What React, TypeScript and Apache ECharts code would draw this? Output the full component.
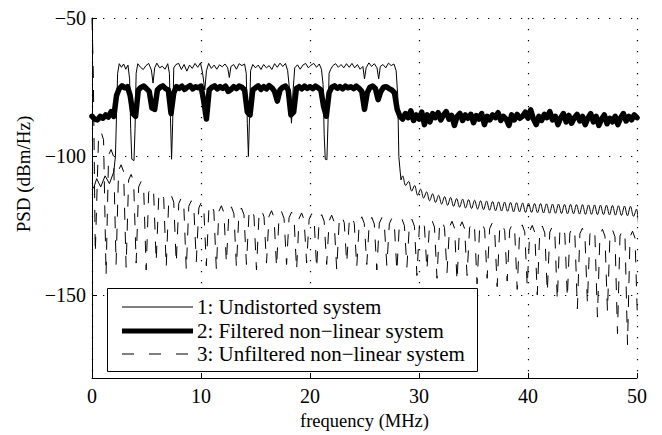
import React, { useEffect, useRef } from "react";
import * as echarts from "echarts";

const FONT = '"Liberation Serif", "Times New Roman", serif';

const xTicks = [0, 10, 20, 30, 40, 50];
const yTicks = [-150, -100, -50];

const legendLabels = [
  "1: Undistorted system",
  "2: Filtered non\u2212linear system",
  "3: Unfiltered non\u2212linear system",
];

// Series 1: undistorted system (low band, occupied band with notches)
const undistortedFreq = [
  0, 0.2, 0.43, 0.8, 1.2, 1.6, 2.0, 2.15, 2.25, 2.35, 2.5, 2.7, 2.9, 3.1, 3.3, 3.45,
  3.55, 3.65, 3.85, 3.95, 4.05, 4.2, 4.45, 4.7, 4.95, 5.2, 5.45, 5.6, 5.75, 5.95, 6.2, 6.45,
  6.7, 6.95, 7.1, 7.2, 7.3, 7.4, 7.5, 7.7, 7.95, 8.2, 8.45, 8.7, 8.95, 9.2, 9.45, 9.7,
  9.95, 10.15, 10.35, 10.5, 10.7, 10.95, 11.2, 11.45, 11.7, 11.95, 12.2, 12.45, 12.6, 12.75, 13.0, 13.25,
  13.5, 13.75, 14.0, 14.15, 14.25, 14.35, 14.45, 14.55, 14.75, 15.0, 15.25, 15.5, 15.75, 16.0, 16.25, 16.5,
  16.75, 17.0, 17.25, 17.5, 17.75, 17.95, 18.15, 18.3, 18.45, 18.6, 18.85, 19.1, 19.35, 19.6, 19.85, 20.1,
  20.35, 20.6, 20.85, 21.05, 21.2, 21.3, 21.4, 21.55, 21.65, 21.75, 21.9, 22.1, 22.35, 22.6, 22.85, 23.1,
  23.35, 23.6, 23.85, 24.1, 24.35, 24.6, 24.85, 25.0, 25.15, 25.4, 25.65, 25.9, 26.15, 26.3, 26.45, 26.7,
  26.95, 27.2, 27.45, 27.7, 27.9, 28.05, 28.15, 28.25, 28.35,
];
const undistortedPsd = [
  -112, -110.8, -108, -111, -107, -109.8, -105.5, -100, -85, -70, -66.5, -67.8, -66.6, -68.5, -67, -72,
  -90, -101, -101.5, -90, -70, -66.5, -67.8, -68.6, -67.2, -66.4, -68.8, -73.5, -68, -66.3, -68, -67.4,
  -68.5, -66.5, -70, -86, -101, -88, -68, -66.8, -66.4, -68.6, -66.8, -69.2, -67, -68.2, -66.4, -67.8,
  -66.2, -70, -76, -69, -66.4, -68.2, -67, -68.5, -66.9, -67.6, -66.6, -68, -71.5, -67.5, -66.8, -68.5,
  -66.5, -67.2, -66.6, -70, -88, -100, -86, -69, -66.8, -68, -67, -68.6, -66.8, -68, -67.2, -68.6,
  -66.5, -67.8, -66.3, -67.5, -66.4, -69, -77, -88, -76, -68, -66.9, -68.5, -67, -66.4, -68, -67,
  -66.4, -67.8, -66.6, -68.5, -74, -92, -101, -101.2, -88, -70, -68.5, -67.2, -66.5, -67.8, -66.8, -68,
  -66.5, -67.8, -66.4, -68, -66.8, -68.5, -67.5, -72, -68, -66.2, -67.5, -66.5, -68, -72, -67.5, -66.8,
  -68, -66.3, -67.2, -66.6, -69, -78, -100, -104.5, -108.5,
];
// Series 1 rippled tail above the band, sampled every 0.275 MHz from 28.5 MHz
const undistortedTailStart = 28.5;
const undistortedTailStep = 0.275;
const undistortedTailPsd = [
  -107, -110.5, -109, -112.5, -110.5, -114, -111.8, -115, -112.8, -116,
  -113.5, -116.6, -114, -117.2, -114.5, -117.6, -114.8, -118, -115.2, -118.3,
  -115.4, -118.6, -115.6, -118.8, -115.8, -119, -116, -119.2, -116.1, -119.4,
  -116.3, -119.6, -116.4, -119.7, -116.5, -119.8, -116.6, -120, -116.7, -120,
  -116.8, -120.2, -116.9, -120.2, -117, -120.3, -117, -120.4, -117.1, -120.5,
  -117.2, -120.5, -117.2, -120.6, -117.3, -120.7, -117.3, -120.7, -117.4, -120.8,
  -117.4, -120.9, -117.5, -120.9, -117.5, -121, -117.6, -121, -117.6, -121.1,
  -117.7, -121.2, -117.8, -121.3, -117.9, -121.4, -118, -121.6, -119, -131,
];

// Series 2: filtered non-linear system, sampled every 0.25 MHz from 0
const filteredStart = 0;
const filteredStep = 0.25;
const filteredPsd = [
  -85.5, -86.5, -86.8, -85.5, -86.2, -85, -85.8, -83.8,
  -85.5, -78, -75.5, -74.5, -75.2, -74.8, -78, -84.5,
  -85.5, -76, -75, -74.6, -75.5, -76.5, -82.5, -83,
  -76, -75, -74.5, -75.5, -76, -84.5, -77, -74.8,
  -75.4, -74.6, -75.8, -75, -74.4, -75.6, -74.8, -75.2,
  -74.6, -80, -86.5, -76, -75, -74.5, -75.6, -74.8,
  -75.4, -74.6, -76.5, -75.8, -74.8, -75.5, -74.6, -75,
  -76, -84, -85, -76, -75.2, -74.5, -75.8, -74.8,
  -75.6, -74.4, -75.2, -76.5, -80, -76, -75, -74.6,
  -76, -85, -84, -75.5, -74.8, -75.6, -74.6, -75.4,
  -74.8, -75.5, -74.6, -75.2, -76, -82, -85.5, -77,
  -75, -74.5, -75.4, -74.8, -75.6, -74.6, -75.2, -74.8,
  -75.5, -74.6, -75.4, -76.5, -83, -77, -75, -74.6,
  -75.5, -79.5, -76.5, -75, -74.8, -75.5, -76, -77,
  -83, -85.5, -86.5, -84.5, -86, -83.5, -87, -85,
  -86.5, -84, -88.5, -85, -87.5, -84.5, -86, -84.2,
  -86.8, -85, -83.8, -86.5, -85.2, -88.8, -85.5, -84.5,
  -87, -85, -86.2, -84.8, -87.8, -85.2, -86.5, -84.5,
  -88.5, -85.5, -86.8, -85, -86, -84.2, -87, -85.5,
  -86.5, -88.8, -85, -86.8, -84.8, -86.2, -85.5, -84,
  -86.2, -83.2, -86.5, -88.5, -85.5, -87, -84.8, -86,
  -83.8, -86.8, -85.5, -88.5, -86, -84.5, -87.5, -85.2,
  -88, -86, -84.8, -87.2, -85.5, -88.5, -86.2, -84.5,
  -87.5, -85.5, -88.8, -86.5, -85, -88.2, -86.2, -87.5,
  -85.5, -88.5, -86, -84.5, -87.2, -85.5, -86.8, -85,
  -86,
];

// Series 3: unfiltered non-linear system. DC spike, then one lobe per row
// (rising shoulder, lobe top, falling shoulder, null), sampled every 0.23 MHz from 0.6 MHz
const unfilteredHeadFreq = [0, 0.12, 0.3];
const unfilteredHeadPsd = [-50, -70, -135];
const unfilteredStart = 0.6;
const unfilteredStep = 0.23;
const unfilteredPsd = [
  -93, -91, -94, -143,
  -99.5, -97.5, -100, -139,
  -105, -103, -105.5, -140,
  -108.5, -106.5, -109, -138.5,
  -111, -109, -111.5, -141,
  -113, -111, -113.5, -138,
  -114.8, -112.8, -115.2, -140,
  -116, -114, -116.5, -138.5,
  -117, -115, -117.5, -141,
  -118, -116, -118.5, -138,
  -118.6, -116.6, -119, -139.5,
  -119.2, -117.2, -119.7, -141,
  -119.8, -117.8, -120.3, -138.5,
  -120.2, -118.2, -120.7, -140,
  -120.6, -118.6, -121, -139,
  -121, -119, -121.5, -141,
  -121.3, -119.3, -121.8, -138.5,
  -121.6, -119.6, -122, -140,
  -121.9, -119.9, -122.4, -139,
  -122.1, -120.1, -122.6, -141,
  -122.4, -120.4, -122.9, -138.5,
  -122.7, -120.7, -123.2, -140.5,
  -123, -121, -123.4, -139,
  -123.2, -121.2, -123.7, -141,
  -123.4, -121.4, -123.9, -138.5,
  -123.6, -121.6, -124.1, -140,
  -123.8, -121.8, -124.2, -139,
  -124, -122, -124.4, -141,
  -124.1, -122.1, -124.6, -139.5,
  -124.3, -122.3, -124.8, -141.5,
  -124.5, -122.5, -125, -140,
  -124.7, -122.7, -125.2, -143,
  -124.9, -122.9, -125.4, -141,
  -125, -123, -125.5, -144,
  -125.2, -123.2, -125.7, -142,
  -125.4, -123.4, -125.9, -145,
  -125.6, -123.6, -126, -143,
  -125.8, -123.8, -126.2, -146,
  -126, -124, -126.4, -144,
  -126.1, -124.1, -126.6, -147,
  -126.3, -124.3, -126.8, -145,
  -126.5, -124.5, -127, -148,
  -126.7, -124.7, -127.2, -147,
  -126.9, -124.9, -127.4, -150,
  -127.1, -125.1, -127.6, -149,
  -127.3, -125.3, -127.8, -152,
  -127.5, -125.5, -128, -151,
  -127.7, -125.7, -128.2, -155,
  -127.9, -125.9, -128.4, -153,
  -128.1, -126.1, -128.6, -158,
  -128.3, -126.3, -128.8, -156,
  -128.5, -126.5, -129, -164,
  -128.7, -126.7, -129.2, -168,
  -129, -127, -129.5, -160,
];

const pairs = (freq: number[], psd: number[]) => freq.map((f, i) => [f, psd[i]]);
const gridPairs = (start: number, step: number, psd: number[]) =>
  psd.map((v, i) => [Math.round((start + i * step) * 1000) / 1000, v]);

const minus = (v: number) => String(v).replace("-", "\u2212");

export default function App() {
  const ref = useRef<HTMLDivElement>(null);

  useEffect(() => {
    if (!ref.current) return;
    const chart = echarts.init(ref.current, undefined, { renderer: "svg" });

    const s1Band = pairs(undistortedFreq, undistortedPsd);
    const s1Tail = [
      s1Band[s1Band.length - 1],
      ...gridPairs(undistortedTailStart, undistortedTailStep, undistortedTailPsd),
    ];
    const s2 = gridPairs(filteredStart, filteredStep, filteredPsd);
    const s3 = [
      ...pairs(unfilteredHeadFreq, unfilteredHeadPsd),
      ...gridPairs(unfilteredStart, unfilteredStep, unfilteredPsd),
    ];

    const dotted = { color: "#000", width: 1.2, type: [1.3, 9.7] as number[] };
    const legendRowsY = [307, 331, 354];

    chart.setOption({
      animation: false,
      backgroundColor: "#fff",
      grid: { left: 92, top: 18, width: 545, height: 364, containLabel: false },
      xAxis: {
        type: "value",
        min: 0,
        max: 50,
        interval: 10,
        name: "frequency (MHz)",
        nameLocation: "middle",
        nameGap: 33,
        nameTextStyle: { fontFamily: FONT, fontSize: 18.5, color: "#000" },
        axisLine: { show: true, lineStyle: { color: "#000", width: 1 } },
        axisTick: { show: true, inside: true, length: 5, lineStyle: { color: "#000" } },
        axisLabel: {
          fontFamily: FONT,
          fontSize: 20,
          color: "#000",
          margin: 8,
          customValues: xTicks,
        },
        splitLine: { show: true, lineStyle: dotted },
      },
      yAxis: {
        type: "value",
        min: -180,
        max: -50,
        axisLine: { show: true, lineStyle: { color: "#000", width: 1 } },
        axisTick: { show: true, inside: true, length: 5, customValues: yTicks, lineStyle: { color: "#000" } },
        axisLabel: {
          fontFamily: FONT,
          fontSize: 20,
          color: "#000",
          margin: 6,
          customValues: yTicks,
          formatter: (v: number) => minus(v),
        },
        splitLine: { show: false },
      },
      series: [
        {
          type: "line",
          name: legendLabels[0],
          data: s1Band,
          symbol: "none",
          lineStyle: { color: "#000", width: 1 },
          z: 3,
          markLine: {
            silent: true,
            symbol: "none",
            label: { show: false },
            lineStyle: dotted,
            data: yTicks.map((v) => ({ yAxis: v })),
          },
        },
        {
          type: "line",
          name: legendLabels[0] + " (tail)",
          data: s1Tail,
          symbol: "none",
          smooth: 0.35,
          lineStyle: { color: "#000", width: 1 },
          z: 3,
        },
        {
          type: "line",
          name: legendLabels[1],
          data: s2,
          symbol: "none",
          lineStyle: { color: "#000", width: 5.5, join: "round", cap: "round" },
          z: 4,
        },
        {
          type: "line",
          name: legendLabels[2],
          data: s3,
          symbol: "none",
          lineStyle: { color: "#000", width: 1, type: [12, 12] },
          z: 5,
        },
      ],
      graphic: [
        {
          type: "text",
          x: 23,
          y: 174,
          rotation: Math.PI / 2,
          style: {
            text: "PSD (dBm/Hz)",
            fontFamily: FONT,
            fontSize: 19,
            fill: "#000",
            align: "center",
            verticalAlign: "middle",
          },
        },
        {
          type: "rect",
          z: 100,
          shape: { x: 107.5, y: 288.5, width: 370, height: 83 },
          style: { fill: "#fff", stroke: "#000", lineWidth: 1 },
        },
        {
          type: "line",
          z: 101,
          shape: { x1: 122, y1: legendRowsY[0], x2: 193, y2: legendRowsY[0] },
          style: { stroke: "#000", lineWidth: 1 },
        },
        {
          type: "line",
          z: 101,
          shape: { x1: 122, y1: legendRowsY[1], x2: 193, y2: legendRowsY[1] },
          style: { stroke: "#000", lineWidth: 5 },
        },
        {
          type: "line",
          z: 101,
          shape: { x1: 122, y1: legendRowsY[2], x2: 193, y2: legendRowsY[2] },
          style: { stroke: "#000", lineWidth: 1, lineDash: [12, 15] },
        },
        ...legendLabels.map((t, i) => ({
          type: "text",
          z: 101,
          x: 197,
          y: legendRowsY[i],
          style: {
            text: t,
            fontFamily: FONT,
            fontSize: 21,
            fill: "#000",
            verticalAlign: "middle",
            align: "left",
          },
        })),
      ],
    });

    return () => chart.dispose();
  }, []);

  return (
    <div
      ref={ref}
      style={{ position: "absolute", left: 0, top: 0, width: 662, height: 435, background: "#fff" }}
    />
  );
}
